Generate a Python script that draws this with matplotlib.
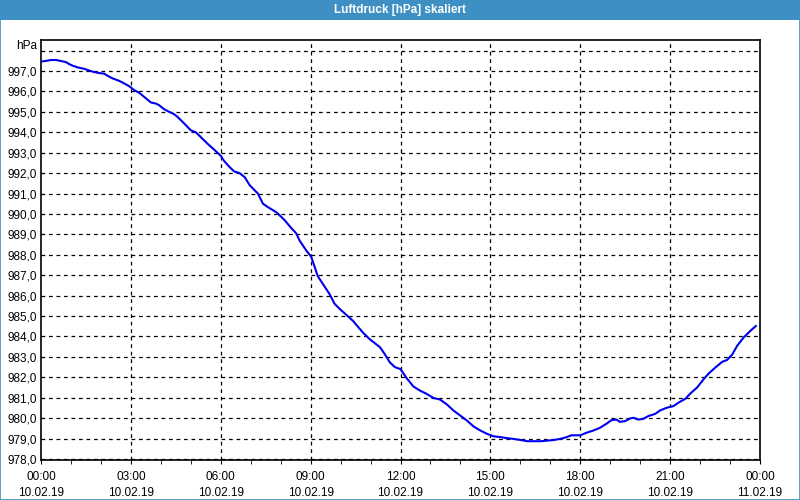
import numpy as np
import matplotlib
matplotlib.use('Agg')
from matplotlib import pyplot as plt
from matplotlib.patches import Rectangle

plt.rcParams['font.family'] = ['Liberation Sans', 'DejaVu Sans']

# hours since 10.02.19 00:00 and pressure in hPa
hours = [0.0, 0.22, 0.33, 0.5, 0.67, 0.83, 0.94, 1.06, 1.22, 1.44, 1.56, 1.72, 1.94,
         2.11, 2.22, 2.39, 2.61, 2.78, 2.94, 3.11, 3.28, 3.44, 3.67, 3.83, 3.94,
         4.11, 4.28, 4.44, 4.56, 4.78, 5.0, 5.17, 5.33, 5.56, 5.78, 6.0, 6.11,
         6.28, 6.45, 6.63, 6.8, 6.97, 7.24, 7.41, 7.58, 7.86, 8.13, 8.36, 8.52,
         8.63, 8.86, 9.02, 9.24, 9.41, 9.63, 9.8, 9.97, 10.41, 10.74, 10.97,
         11.31, 11.47, 11.64, 11.81, 12.0, 12.2, 12.43, 12.65, 12.87, 13.1,
         13.32, 13.55, 13.77, 13.99, 14.22, 14.44, 14.67, 14.89, 15.11, 15.34,
         15.56, 15.78, 16.01, 16.23, 16.46, 16.68, 16.9, 17.13, 17.31, 17.53,
         17.7, 18.0, 18.2, 18.43, 18.65, 18.87, 19.04, 19.21, 19.32, 19.49,
         19.66, 19.77, 19.94, 20.11, 20.27, 20.5, 20.67, 20.89, 21.11, 21.28,
         21.51, 21.67, 21.9, 22.12, 22.29, 22.51, 22.74, 22.9, 23.07, 23.24,
         23.46, 23.69, 23.86]
pressure = [997.46, 997.51, 997.54, 997.54, 997.49, 997.44, 997.34, 997.26, 997.18,
            997.11, 997.05, 996.97, 996.90, 996.87, 996.77, 996.64, 996.52, 996.39,
            996.26, 996.07, 995.93, 995.74, 995.46, 995.41, 995.33, 995.13, 995.00,
            994.89, 994.75, 994.43, 994.10, 994.00, 993.77, 993.44, 993.15, 992.85,
            992.60, 992.32, 992.08, 992.00, 991.80, 991.40, 991.00, 990.50, 990.33,
            990.08, 989.70, 989.30, 989.05, 988.70, 988.20, 987.90, 986.95, 986.57,
            986.08, 985.60, 985.35, 984.77, 984.20, 983.87, 983.48, 983.15, 982.74,
            982.50, 982.40, 981.97, 981.55, 981.35, 981.19, 980.99, 980.91, 980.67,
            980.37, 980.13, 979.88, 979.59, 979.39, 979.23, 979.11, 979.07, 979.02,
            978.98, 978.93, 978.87, 978.87, 978.87, 978.90, 978.93, 978.98, 979.06,
            979.16, 979.16, 979.28, 979.39, 979.52, 979.72, 979.90, 979.93, 979.82,
            979.85, 979.98, 980.02, 979.93, 979.97, 980.10, 980.21, 980.38, 980.51,
            980.59, 980.76, 980.95, 981.20, 981.50, 981.91, 982.19, 982.48, 982.76,
            982.85, 983.11, 983.55, 983.96, 984.29, 984.51]

tick_hours = [0, 3, 6, 9, 12, 15, 18, 21, 24]
tick_labels = ['00:00\n10.02.19', '03:00\n10.02.19', '06:00\n10.02.19',
               '09:00\n10.02.19', '12:00\n10.02.19', '15:00\n10.02.19',
               '18:00\n10.02.19', '21:00\n10.02.19', '00:00\n11.02.19']
y_ticks = np.arange(978, 998)

title_blue = '#3d8fc4'

fig = plt.figure(figsize=(8, 5), dpi=100)
fig.patch.set_facecolor('white')

# title bar + frame
fig.patches.append(Rectangle((0, 0.96), 1, 0.04, transform=fig.transFigure,
                             facecolor=title_blue, edgecolor='none', zorder=0))
fig.patches.append(Rectangle((0.0006, 0.001), 0.9988, 0.998, transform=fig.transFigure,
                             facecolor='none', edgecolor=title_blue, lw=1.2, zorder=0))
fig.text(0.5, 0.98, 'Luftdruck [hPa] skaliert', color='white', fontweight='bold',
         fontsize=8.5, ha='center', va='center')

ax = fig.add_axes([0.05125, 0.08, 0.89875, 0.84])
ax.plot(hours, pressure, color='#0000ee', lw=1.5, zorder=3)

ax.set_xlim(0, 24)
ax.set_ylim(977.95, 998.52)

# grid: dashed black lines
for v in range(978, 999):
    ax.axhline(v, color='black', lw=0.9, ls=(0, (3, 3)), zorder=1)
for h in tick_hours[1:-1]:
    ax.axvline(h, color='black', lw=0.9, ls=(0, (3, 3)), zorder=1)

ax.set_yticks(y_ticks)
ax.set_yticklabels([('%.1f' % v).replace('.', ',') for v in y_ticks], fontsize=8.5)
ax.tick_params(axis='y', length=0, pad=3)

ax.set_xticks(tick_hours)
ax.set_xticklabels(tick_labels, fontsize=8.5, linespacing=1.45)
ax.set_xticks(np.arange(0, 25, 1), minor=True)
ax.tick_params(axis='x', which='both', direction='out', length=3, pad=5)

for s in ax.spines.values():
    s.set_linewidth(1.2)

fig.text(0.047, 0.908, 'hPa', fontsize=8.5, ha='right', va='center')

fig.savefig('out.png', dpi=100)
